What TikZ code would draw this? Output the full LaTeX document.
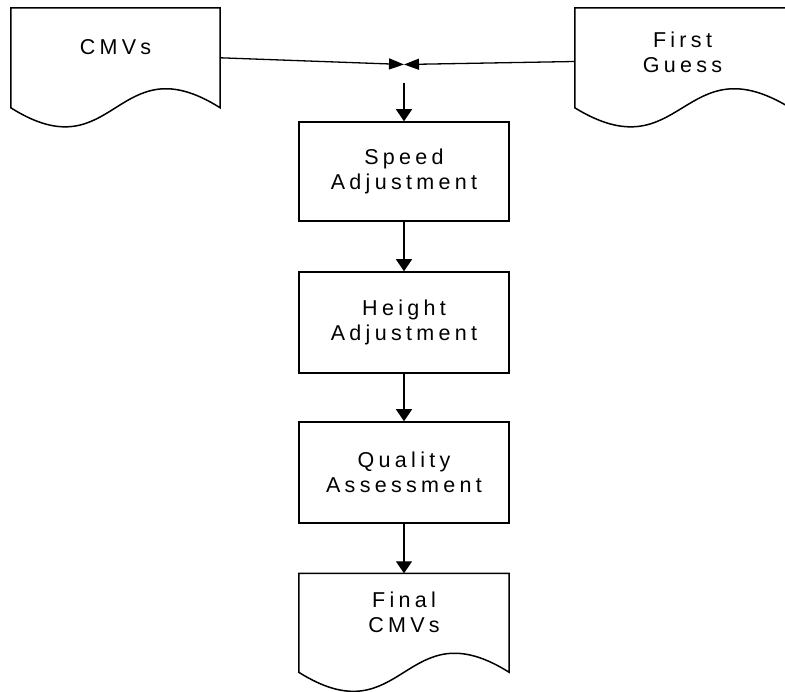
\documentclass[tikz,border=0pt]{standalone}
\usepackage{fontspec}
\setmainfont{Liberation Sans}[LetterSpace=20]
\usetikzlibrary{arrows.meta,calc}
\begin{document}
\begin{tikzpicture}[x=1pt,y=-1pt,
  lbl/.style={font=\fontsize{21.5}{25}\selectfont, align=center, inner sep=0pt},
  proc/.style={lbl, draw, line width=1.5pt, minimum width=210pt, minimum height=100pt},
  docbox/.style={lbl, minimum height=78pt},
  docline/.style={line width=1.5pt, line join=miter},
  conn/.style={line width=1.3pt},
  arr/.style={conn, -{Triangle[length=12pt,width=16pt]}},
  jarr/.style={conn, -{Triangle[length=15pt,width=11pt]}}]
\useasboundingbox (0,0) rectangle (785,692);
\clip (0,0) rectangle (785,692);

% documents (text nodes; outlines drawn below)
\node[docbox, minimum width=209pt] (cmv) at (115.5,47) {CMVs};
\node[docbox, minimum width=215pt, minimum height=88pt] (fg) at (682.5,52) {First\\Guess};
\node[docbox, minimum width=210pt] (fin) at (404,612.5) {Final\\CMVs};

% processes
\node[proc, minimum height=99pt] (spd) at (404,171.5) {Speed\\Adjustment};
\node[proc, minimum height=101pt] (hgt) at (404,322.5) {Height\\Adjustment};
\node[proc, minimum height=101pt] (qa) at (404,472.5) {Quality\\Assessment};

% document outlines
\draw[docline] (cmv.north west) -- (cmv.north east) -- ($(cmv.north east)+(0,100)$)
  .. controls ($(cmv.north)+(0,34)$) and ($(cmv.north)+(0,166)$) .. ($(cmv.north west)+(0,100)$) -- cycle;
\draw[docline] (fg.north west) -- (fg.north east) -- ($(fg.north east)+(0,100)$)
  .. controls ($(fg.north)+(0,34)$) and ($(fg.north)+(0,166)$) .. ($(fg.north west)+(0,100)$) -- cycle;
\draw[docline] (fin.north west) -- (fin.north east) -- ($(fin.north east)+(0,99)$)
  .. controls ($(fin.north)+(0,33)$) and ($(fin.north)+(0,165)$) .. ($(fin.north west)+(0,99)$) -- cycle;

% junction
\coordinate (j) at (404,64.5);
\coordinate (jd) at (404,83);
\coordinate (cmvout) at ($(cmv.north east)+(0,50)$);
\coordinate (fgout) at ($(fg.north west)+(0,53.7)$);
\draw[jarr] (cmvout) -- (j);
\draw[jarr] (fgout) -- (j);

% flow
\draw[arr] (jd) -- (spd.north);
\draw[arr] (spd.south) -- (hgt.north);
\draw[arr] (hgt.south) -- (qa.north);
\draw[arr] (qa.south) -- (fin.north);
\end{tikzpicture}
\end{document}
